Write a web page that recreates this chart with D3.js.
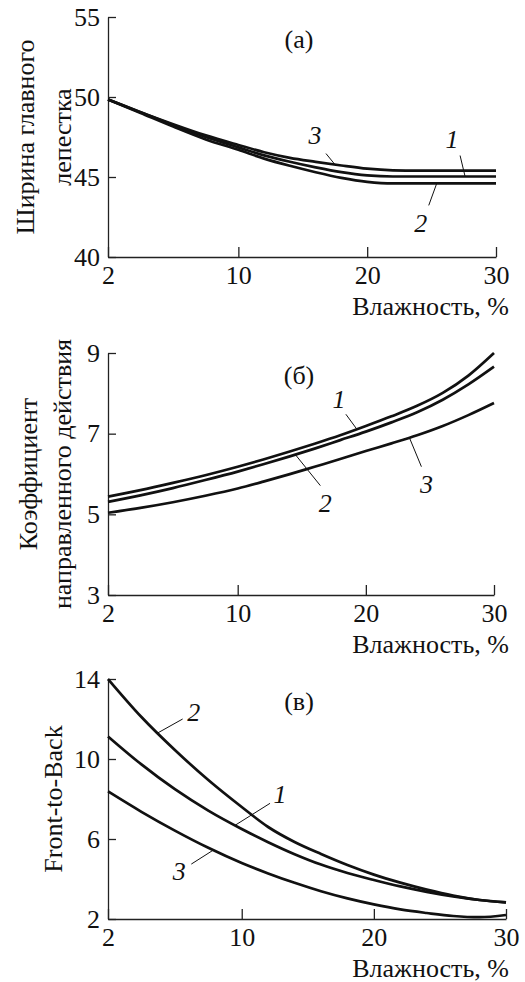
<!DOCTYPE html>
<html>
<head>
<meta charset="utf-8">
<script src="https://cdn.jsdelivr.net/npm/d3@7"></script>
<style>
  body { margin: 0; background: #fff; }
  svg { display: block; }
  svg text { font-family: "Liberation Serif", serif; fill: #111; font-size: 26px; }
  .axis path, .axis line { stroke: #222; stroke-width: 1.3; }
  .axis text { font-family: "Liberation Serif", serif; font-size: 26px; }
  .curve { fill: none; stroke: #111; stroke-width: 2.7; }
  .leader { stroke: #111; stroke-width: 1; }
</style>
</head>
<body>
<svg width="525" height="982"></svg>
<script>
// humidity grid, %
var humidity = [2, 4, 6, 8, 10, 12, 14, 16, 18, 20, 22, 24, 26, 28, 30];
var xTicks = [2, 10, 20, 30];

// (a) main lobe width
var beamWidth1 = [49.85, 49.05, 48.25, 47.5, 46.85, 46.35, 45.95, 45.6, 45.3, 45.1, 45.03, 45.03, 45.03, 45.03, 45.03];
var beamWidth2 = [49.85, 49.0, 48.15, 47.35, 46.7, 46.15, 45.7, 45.3, 44.95, 44.7, 44.6, 44.6, 44.6, 44.6, 44.6];
var beamWidth3 = [49.85, 49.05, 48.3, 47.6, 47.0, 46.55, 46.2, 45.95, 45.72, 45.52, 45.42, 45.4, 45.4, 45.4, 45.4];
var beamTicks = [40, 45, 50, 55];

// (б) directivity
var directivity1 = [5.44, 5.60, 5.78, 5.97, 6.18, 6.36, 6.55, 6.75, 6.96, 7.19, 7.43, 7.69, 8.01, 8.44, 9.0];
var directivity2 = [5.31, 5.47, 5.65, 5.85, 6.06, 6.24, 6.43, 6.63, 6.84, 7.05, 7.28, 7.53, 7.84, 8.22, 8.66];
var directivity3 = [5.04, 5.16, 5.30, 5.46, 5.64, 5.81, 5.99, 6.18, 6.37, 6.57, 6.76, 6.96, 7.19, 7.46, 7.76];
var directivityTicks = [3, 5, 7, 9];

// (в) front-to-back
var frontBack1 = [11.13, 9.73, 8.49, 7.42, 6.5, 5.84, 5.24, 4.72, 4.3, 3.95, 3.63, 3.36, 3.13, 2.95, 2.83];
var frontBack2 = [14.0, 12.1, 10.45, 8.95, 7.6, 6.6, 5.85, 5.25, 4.7, 4.22, 3.82, 3.47, 3.17, 2.95, 2.83];
var frontBack3 = [8.38, 7.36, 6.42, 5.56, 4.8, 4.28, 3.81, 3.39, 3.03, 2.73, 2.48, 2.3, 2.15, 2.09, 2.2];
var frontBackTicks = [2, 6, 10, 14];

var xTitle = "Влажность, %";

var panels = [
  {
    tag: "(a)", top: 17, bottom: 257, left: 108, right: 496,
    yTicks: beamTicks, series: [beamWidth1, beamWidth2, beamWidth3],
    title: ["Ширина главного", "лепестка"], titleX: [25, 62],
    labels: [
      {text: "3", x: 17.5, s: 2, dx: -9, dy: -11, tx: -20, ty: -30},
      {text: "1", x: 27.6, s: 0, dx: -5, dy: -21, tx: -13, ty: -38},
      {text: "2", x: 25.4, s: 1, dx: -8, dy: 22, tx: -16, ty: 39}
    ]
  },
  {
    tag: "(б)", top: 353, bottom: 595, left: 108, right: 494,
    yTicks: directivityTicks, series: [directivity1, directivity2, directivity3],
    title: ["Коэффициент", "направленного действия"], titleX: [28, 62],
    labels: [
      {text: "1", x: 19.3, s: 0, dx: -11, dy: -15, tx: -18, ty: -30},
      {text: "2", x: 14.5, s: 1, dx: 25, dy: 31, tx: 30, ty: 48},
      {text: "3", x: 23.4, s: 2, dx: 12, dy: 29, tx: 17, ty: 46}
    ]
  },
  {
    tag: "(в)", top: 679, bottom: 919, left: 108, right: 506,
    yTicks: frontBackTicks, series: [frontBack1, frontBack2, frontBack3],
    title: ["Front-to-Back"], titleX: [53],
    labels: [
      {text: "2", x: 4.97, s: 1, dx: 25, dy: -14, tx: 36, ty: -21},
      {text: "1", x: 9.6, s: 0, dx: 35, dy: -22, tx: 45, ty: -31},
      {text: "3", x: 8.3, s: 2, dx: -22, dy: 14, tx: -34, ty: 21}
    ]
  }
];

var svg = d3.select("svg");

panels.forEach(function(p) {
  var w = p.right - p.left;
  // tick positions are evenly spaced in the original figure
  var x = d3.scaleLinear()
    .domain(xTicks)
    .range([p.left, p.left + w * 0.336, p.left + w * 0.668, p.right]);
  var y = d3.scaleLinear()
    .domain([p.yTicks[0], p.yTicks[p.yTicks.length - 1]])
    .range([p.bottom, p.top]);

  var g = svg.append("g");

  g.append("g")
    .attr("class", "axis")
    .attr("transform", "translate(0," + p.bottom + ")")
    .call(d3.axisBottom(x).tickValues(xTicks).tickFormat(d3.format("d"))
      .tickSizeInner(-10).tickSizeOuter(0).tickPadding(9))
    .attr("font-family", null).attr("font-size", null);

  g.append("g")
    .attr("class", "axis")
    .attr("transform", "translate(" + p.left + ",0)")
    .call(d3.axisLeft(y).tickValues(p.yTicks).tickFormat(d3.format("d"))
      .tickSizeInner(-8).tickSizeOuter(0).tickPadding(8))
    .attr("font-family", null).attr("font-size", null);

  var line = d3.line()
    .x(function(d, i) { return x(humidity[i]); })
    .y(function(d) { return y(d); })
    .curve(d3.curveMonotoneX);

  g.selectAll(".curve")
    .data(p.series)
    .enter().append("path")
    .attr("class", "curve")
    .attr("d", line);

  // curve numbers with leader lines
  p.labels.forEach(function(l) {
    var s = p.series[l.s];
    var vy = d3.scaleLinear().domain(humidity).range(s)(l.x);
    var ax = x(l.x), ay = y(vy);
    g.append("line")
      .attr("class", "leader")
      .attr("x1", ax).attr("y1", ay)
      .attr("x2", ax + l.dx).attr("y2", ay + l.dy);
    g.append("text")
      .attr("x", ax + l.tx).attr("y", ay + l.ty)
      .attr("dy", "0.35em")
      .attr("text-anchor", "middle")
      .style("font-style", "italic")
      .text(l.text);
  });

  g.append("text")
    .attr("x", 299).attr("y", p.top + 31)
    .attr("text-anchor", "middle")
    .text(p.tag);

  g.append("text")
    .attr("x", 509).attr("y", p.bottom + 58)
    .attr("text-anchor", "end")
    .text(xTitle);

  var cy = (p.top + p.bottom) / 2;
  p.title.forEach(function(t, i) {
    g.append("text")
      .attr("transform", "translate(" + p.titleX[i] + "," + cy + ") rotate(-90)")
      .attr("dy", "0.35em")
      .attr("text-anchor", "middle")
      .text(t);
  });
});
</script>
</body>
</html>
